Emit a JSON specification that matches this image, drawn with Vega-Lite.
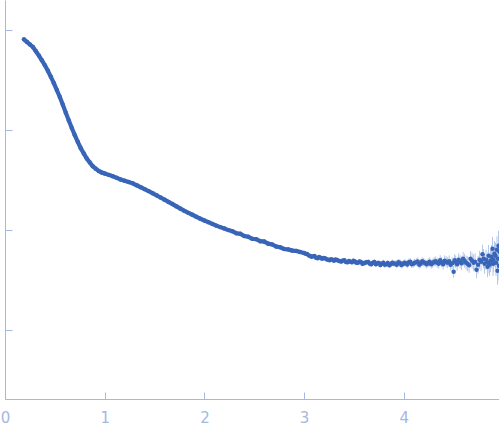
{
  "$schema": "https://vega.github.io/schema/vega-lite/v6.json",
  "autosize": "none",
  "padding": {"left": 5, "top": 0, "right": 0, "bottom": 38},
  "width": 494,
  "height": 399,
  "background": "white",
  "config": {
    "view": {"stroke": null},
    "axis": {
      "grid": false,
      "domainColor": "#a4b8e2",
      "tickColor": "#a4b8e2",
      "labelColor": "#a4b8e2",
      "labelFont": "DejaVu Sans",
      "labelFontSize": 15,
      "labelFlush": false,
      "tickSize": -7
    }
  },
  "data": {
    "values": [
      {"q": 0.19, "logI": -0.09, "err": 0.004},
      {"q": 0.22, "logI": -0.116, "err": 0.004},
      {"q": 0.25, "logI": -0.142, "err": 0.004},
      {"q": 0.28, "logI": -0.167, "err": 0.004},
      {"q": 0.31, "logI": -0.21, "err": 0.004},
      {"q": 0.34, "logI": -0.253, "err": 0.004},
      {"q": 0.37, "logI": -0.301, "err": 0.004},
      {"q": 0.40, "logI": -0.35, "err": 0.004},
      {"q": 0.43, "logI": -0.405, "err": 0.004},
      {"q": 0.46, "logI": -0.466, "err": 0.004},
      {"q": 0.49, "logI": -0.53, "err": 0.004},
      {"q": 0.52, "logI": -0.599, "err": 0.004},
      {"q": 0.55, "logI": -0.668, "err": 0.004},
      {"q": 0.58, "logI": -0.747, "err": 0.004},
      {"q": 0.61, "logI": -0.826, "err": 0.004},
      {"q": 0.64, "logI": -0.903, "err": 0.004},
      {"q": 0.67, "logI": -0.98, "err": 0.004},
      {"q": 0.70, "logI": -1.051, "err": 0.004},
      {"q": 0.73, "logI": -1.118, "err": 0.004},
      {"q": 0.76, "logI": -1.182, "err": 0.004},
      {"q": 0.79, "logI": -1.234, "err": 0.004},
      {"q": 0.82, "logI": -1.286, "err": 0.004},
      {"q": 0.85, "logI": -1.324, "err": 0.004},
      {"q": 0.88, "logI": -1.362, "err": 0.004},
      {"q": 0.91, "logI": -1.387, "err": 0.004},
      {"q": 0.94, "logI": -1.41, "err": 0.004},
      {"q": 0.97, "logI": -1.425, "err": 0.004},
      {"q": 1.00, "logI": -1.435, "err": 0.004},
      {"q": 1.04, "logI": -1.449, "err": 0.005},
      {"q": 1.08, "logI": -1.462, "err": 0.005},
      {"q": 1.12, "logI": -1.479, "err": 0.005},
      {"q": 1.16, "logI": -1.496, "err": 0.005},
      {"q": 1.20, "logI": -1.508, "err": 0.005},
      {"q": 1.24, "logI": -1.521, "err": 0.005},
      {"q": 1.28, "logI": -1.534, "err": 0.005},
      {"q": 1.32, "logI": -1.553, "err": 0.005},
      {"q": 1.36, "logI": -1.573, "err": 0.005},
      {"q": 1.40, "logI": -1.592, "err": 0.005},
      {"q": 1.44, "logI": -1.612, "err": 0.005},
      {"q": 1.48, "logI": -1.633, "err": 0.005},
      {"q": 1.52, "logI": -1.654, "err": 0.005},
      {"q": 1.56, "logI": -1.676, "err": 0.006},
      {"q": 1.60, "logI": -1.698, "err": 0.006},
      {"q": 1.64, "logI": -1.72, "err": 0.006},
      {"q": 1.68, "logI": -1.742, "err": 0.006},
      {"q": 1.72, "logI": -1.765, "err": 0.006},
      {"q": 1.76, "logI": -1.788, "err": 0.006},
      {"q": 1.80, "logI": -1.81, "err": 0.007},
      {"q": 1.84, "logI": -1.83, "err": 0.007},
      {"q": 1.88, "logI": -1.849, "err": 0.007},
      {"q": 1.92, "logI": -1.869, "err": 0.007},
      {"q": 1.96, "logI": -1.889, "err": 0.008},
      {"q": 2.00, "logI": -1.906, "err": 0.008},
      {"q": 2.04, "logI": -1.923, "err": 0.008},
      {"q": 2.08, "logI": -1.941, "err": 0.008},
      {"q": 2.12, "logI": -1.958, "err": 0.009},
      {"q": 2.16, "logI": -1.973, "err": 0.009},
      {"q": 2.20, "logI": -1.987, "err": 0.009},
      {"q": 2.24, "logI": -2.003, "err": 0.01},
      {"q": 2.28, "logI": -2.014, "err": 0.01},
      {"q": 2.32, "logI": -2.034, "err": 0.01},
      {"q": 2.36, "logI": -2.04, "err": 0.011},
      {"q": 2.40, "logI": -2.063, "err": 0.011},
      {"q": 2.44, "logI": -2.07, "err": 0.011},
      {"q": 2.48, "logI": -2.09, "err": 0.012},
      {"q": 2.52, "logI": -2.094, "err": 0.012},
      {"q": 2.56, "logI": -2.114, "err": 0.012},
      {"q": 2.60, "logI": -2.118, "err": 0.013},
      {"q": 2.64, "logI": -2.139, "err": 0.013},
      {"q": 2.68, "logI": -2.146, "err": 0.013},
      {"q": 2.72, "logI": -2.168, "err": 0.014},
      {"q": 2.76, "logI": -2.175, "err": 0.014},
      {"q": 2.80, "logI": -2.192, "err": 0.014},
      {"q": 2.84, "logI": -2.196, "err": 0.015},
      {"q": 2.88, "logI": -2.208, "err": 0.015},
      {"q": 2.92, "logI": -2.211, "err": 0.015},
      {"q": 2.96, "logI": -2.223, "err": 0.016},
      {"q": 3.00, "logI": -2.232, "err": 0.016},
      {"q": 3.015, "logI": -2.24, "err": 0.017},
      {"q": 3.03, "logI": -2.243, "err": 0.017},
      {"q": 3.045, "logI": -2.255, "err": 0.017},
      {"q": 3.06, "logI": -2.262, "err": 0.017},
      {"q": 3.075, "logI": -2.27, "err": 0.018},
      {"q": 3.09, "logI": -2.265, "err": 0.018},
      {"q": 3.105, "logI": -2.262, "err": 0.018},
      {"q": 3.12, "logI": -2.28, "err": 0.018},
      {"q": 3.135, "logI": -2.285, "err": 0.019},
      {"q": 3.15, "logI": -2.272, "err": 0.019},
      {"q": 3.165, "logI": -2.28, "err": 0.019},
      {"q": 3.18, "logI": -2.29, "err": 0.019},
      {"q": 3.195, "logI": -2.282, "err": 0.02},
      {"q": 3.21, "logI": -2.285, "err": 0.02},
      {"q": 3.225, "logI": -2.295, "err": 0.02},
      {"q": 3.24, "logI": -2.30, "err": 0.02},
      {"q": 3.255, "logI": -2.305, "err": 0.021},
      {"q": 3.27, "logI": -2.295, "err": 0.021},
      {"q": 3.285, "logI": -2.30, "err": 0.021},
      {"q": 3.30, "logI": -2.31, "err": 0.021},
      {"q": 3.315, "logI": -2.298, "err": 0.022},
      {"q": 3.33, "logI": -2.302, "err": 0.022},
      {"q": 3.345, "logI": -2.31, "err": 0.022},
      {"q": 3.36, "logI": -2.315, "err": 0.022},
      {"q": 3.375, "logI": -2.318, "err": 0.023},
      {"q": 3.39, "logI": -2.308, "err": 0.023},
      {"q": 3.405, "logI": -2.305, "err": 0.023},
      {"q": 3.42, "logI": -2.322, "err": 0.023},
      {"q": 3.435, "logI": -2.325, "err": 0.024},
      {"q": 3.45, "logI": -2.312, "err": 0.024},
      {"q": 3.465, "logI": -2.32, "err": 0.024},
      {"q": 3.48, "logI": -2.326, "err": 0.024},
      {"q": 3.495, "logI": -2.31, "err": 0.025},
      {"q": 3.51, "logI": -2.318, "err": 0.025},
      {"q": 3.525, "logI": -2.33, "err": 0.025},
      {"q": 3.54, "logI": -2.33, "err": 0.025},
      {"q": 3.555, "logI": -2.318, "err": 0.026},
      {"q": 3.57, "logI": -2.322, "err": 0.026},
      {"q": 3.585, "logI": -2.34, "err": 0.026},
      {"q": 3.60, "logI": -2.335, "err": 0.026},
      {"q": 3.615, "logI": -2.328, "err": 0.027},
      {"q": 3.63, "logI": -2.325, "err": 0.027},
      {"q": 3.645, "logI": -2.322, "err": 0.027},
      {"q": 3.66, "logI": -2.34, "err": 0.027},
      {"q": 3.675, "logI": -2.345, "err": 0.028},
      {"q": 3.69, "logI": -2.33, "err": 0.028},
      {"q": 3.705, "logI": -2.322, "err": 0.028},
      {"q": 3.72, "logI": -2.345, "err": 0.028},
      {"q": 3.735, "logI": -2.335, "err": 0.029},
      {"q": 3.75, "logI": -2.332, "err": 0.029},
      {"q": 3.765, "logI": -2.352, "err": 0.029},
      {"q": 3.78, "logI": -2.34, "err": 0.03},
      {"q": 3.795, "logI": -2.33, "err": 0.03},
      {"q": 3.81, "logI": -2.35, "err": 0.03},
      {"q": 3.825, "logI": -2.342, "err": 0.031},
      {"q": 3.84, "logI": -2.333, "err": 0.031},
      {"q": 3.855, "logI": -2.355, "err": 0.031},
      {"q": 3.87, "logI": -2.345, "err": 0.032},
      {"q": 3.885, "logI": -2.33, "err": 0.032},
      {"q": 3.90, "logI": -2.338, "err": 0.032},
      {"q": 3.915, "logI": -2.34, "err": 0.033},
      {"q": 3.93, "logI": -2.35, "err": 0.033},
      {"q": 3.945, "logI": -2.325, "err": 0.033},
      {"q": 3.96, "logI": -2.33, "err": 0.034},
      {"q": 3.975, "logI": -2.352, "err": 0.034},
      {"q": 3.99, "logI": -2.345, "err": 0.035},
      {"q": 4.005, "logI": -2.33, "err": 0.035},
      {"q": 4.02, "logI": -2.335, "err": 0.036},
      {"q": 4.035, "logI": -2.348, "err": 0.036},
      {"q": 4.05, "logI": -2.325, "err": 0.037},
      {"q": 4.065, "logI": -2.32, "err": 0.037},
      {"q": 4.08, "logI": -2.345, "err": 0.038},
      {"q": 4.095, "logI": -2.34, "err": 0.038},
      {"q": 4.11, "logI": -2.33, "err": 0.039},
      {"q": 4.125, "logI": -2.325, "err": 0.039},
      {"q": 4.14, "logI": -2.318, "err": 0.04},
      {"q": 4.155, "logI": -2.35, "err": 0.04},
      {"q": 4.17, "logI": -2.34, "err": 0.041},
      {"q": 4.185, "logI": -2.315, "err": 0.041},
      {"q": 4.20, "logI": -2.325, "err": 0.042},
      {"q": 4.215, "logI": -2.335, "err": 0.042},
      {"q": 4.23, "logI": -2.345, "err": 0.043},
      {"q": 4.245, "logI": -2.33, "err": 0.044},
      {"q": 4.26, "logI": -2.32, "err": 0.045},
      {"q": 4.275, "logI": -2.345, "err": 0.045},
      {"q": 4.29, "logI": -2.335, "err": 0.046},
      {"q": 4.305, "logI": -2.32, "err": 0.047},
      {"q": 4.32, "logI": -2.315, "err": 0.048},
      {"q": 4.335, "logI": -2.33, "err": 0.049},
      {"q": 4.35, "logI": -2.34, "err": 0.05},
      {"q": 4.365, "logI": -2.305, "err": 0.051},
      {"q": 4.38, "logI": -2.325, "err": 0.052},
      {"q": 4.395, "logI": -2.345, "err": 0.053},
      {"q": 4.41, "logI": -2.31, "err": 0.054},
      {"q": 4.425, "logI": -2.32, "err": 0.055},
      {"q": 4.44, "logI": -2.33, "err": 0.056},
      {"q": 4.455, "logI": -2.315, "err": 0.057},
      {"q": 4.47, "logI": -2.35, "err": 0.058},
      {"q": 4.485, "logI": -2.335, "err": 0.059},
      {"q": 4.50, "logI": -2.42, "err": 0.06},
      {"q": 4.51, "logI": -2.305, "err": 0.061},
      {"q": 4.52, "logI": -2.32, "err": 0.062},
      {"q": 4.535, "logI": -2.345, "err": 0.064},
      {"q": 4.55, "logI": -2.30, "err": 0.065},
      {"q": 4.565, "logI": -2.32, "err": 0.066},
      {"q": 4.58, "logI": -2.335, "err": 0.068},
      {"q": 4.595, "logI": -2.29, "err": 0.069},
      {"q": 4.61, "logI": -2.31, "err": 0.07},
      {"q": 4.625, "logI": -2.33, "err": 0.072},
      {"q": 4.64, "logI": -2.34, "err": 0.074},
      {"q": 4.655, "logI": -2.355, "err": 0.076},
      {"q": 4.67, "logI": -2.29, "err": 0.078},
      {"q": 4.685, "logI": -2.31, "err": 0.08},
      {"q": 4.70, "logI": -2.33, "err": 0.082},
      {"q": 4.715, "logI": -2.32, "err": 0.084},
      {"q": 4.73, "logI": -2.40, "err": 0.086},
      {"q": 4.745, "logI": -2.35, "err": 0.088},
      {"q": 4.76, "logI": -2.30, "err": 0.09},
      {"q": 4.775, "logI": -2.32, "err": 0.092},
      {"q": 4.79, "logI": -2.245, "err": 0.095},
      {"q": 4.80, "logI": -2.29, "err": 0.097},
      {"q": 4.81, "logI": -2.34, "err": 0.1},
      {"q": 4.825, "logI": -2.30, "err": 0.102},
      {"q": 4.84, "logI": -2.37, "err": 0.105},
      {"q": 4.845, "logI": -2.33, "err": 0.107},
      {"q": 4.85, "logI": -2.26, "err": 0.11},
      {"q": 4.86, "logI": -2.35, "err": 0.112},
      {"q": 4.87, "logI": -2.31, "err": 0.115},
      {"q": 4.88, "logI": -2.27, "err": 0.117},
      {"q": 4.89, "logI": -2.19, "err": 0.12},
      {"q": 4.895, "logI": -2.34, "err": 0.122},
      {"q": 4.90, "logI": -2.30, "err": 0.125},
      {"q": 4.91, "logI": -2.24, "err": 0.127},
      {"q": 4.92, "logI": -2.26, "err": 0.13},
      {"q": 4.925, "logI": -2.33, "err": 0.132},
      {"q": 4.935, "logI": -2.20, "err": 0.135},
      {"q": 4.94, "logI": -2.41, "err": 0.14},
      {"q": 4.945, "logI": -2.29, "err": 0.142},
      {"q": 4.95, "logI": -2.16, "err": 0.15},
      {"q": 4.955, "logI": -2.36, "err": 0.15},
      {"q": 4.96, "logI": -2.22, "err": 0.15}
    ]
  },
  "encoding": {
    "x": {
      "field": "q",
      "type": "quantitative",
      "title": null,
      "scale": {"domain": [0, 4.955], "nice": false, "zero": false},
      "axis": {"values": [0, 1, 2, 3, 4], "labelPadding": 18}
    },
    "y": {
      "field": "logI",
      "type": "quantitative",
      "title": null,
      "scale": {"domain": [-3.696, 0.304], "nice": false, "zero": false},
      "axis": {"values": [-3, -2, -1, 0], "labels": false}
    }
  },
  "layer": [
    {
      "mark": {"type": "errorbar", "color": "#b3c6ea", "clip": true},
      "encoding": {
        "yError": {"field": "err"}
      }
    },
    {
      "transform": [{"filter": "datum.q <= 3.0"}],
      "mark": {"type": "line", "color": "#3865b8", "strokeWidth": 4.2, "clip": true},
      "encoding": {}
    },
    {
      "mark": {"type": "point", "filled": true, "size": 20, "color": "#3865b8", "opacity": 1, "clip": true},
      "encoding": {}
    }
  ]
}
